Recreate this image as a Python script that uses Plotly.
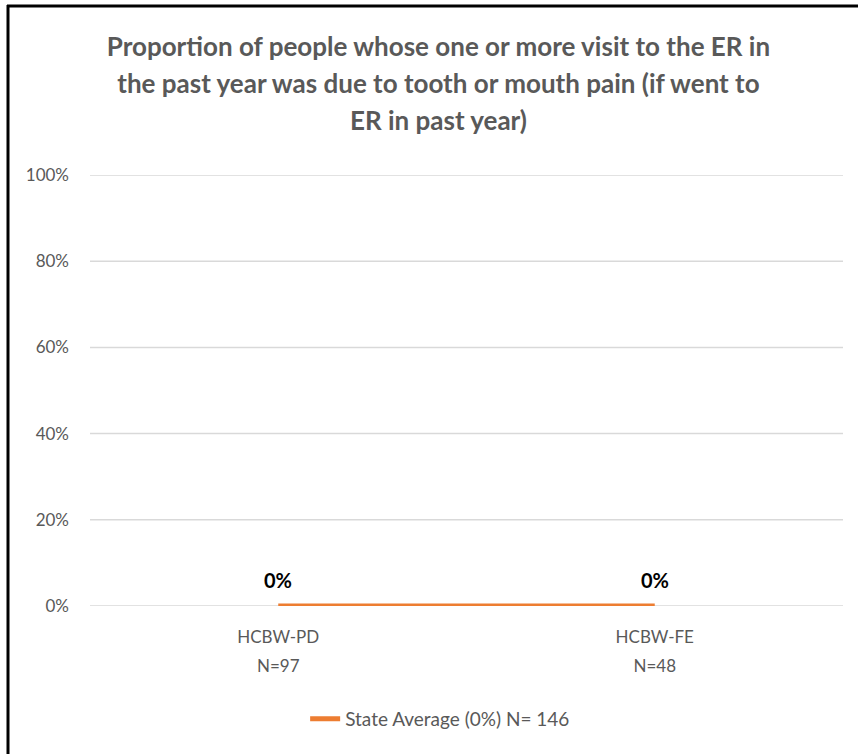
import plotly.graph_objects as go

categories = ["HCBW-PD", "HCBW-FE"]
sample_sizes = ["N=97", "N=48"]
group_values = [0, 0]
state_average = [0, 0]
state_label = "State Average (0%) N= 146"
title_lines = ["Proportion of people whose one or more visit to the ER in",
               "the past year was due to tooth or mouth pain (if went to",
               "ER in past year)"]
y_ticks = [0, 0.2, 0.4, 0.6, 0.8, 1.0]
y_ticklabels = ["0%", "20%", "40%", "60%", "80%", "100%"]

FONT = "Lato, Carlito, Calibri, sans-serif"
GREY = "#595959"
ORANGE = "#ED7D31"
GRID = "#D9D9D9"

W, H = 858, 754
L, R, T, B = 90, 15, 175, 148
pw, ph = W - L - R, H - T - B


def sized(s, px):
    return f"<span style='font-size:{px}px'>{s}</span>"


fig = go.Figure()

fig.add_trace(go.Scatter(
    x=categories, y=state_average, mode="lines",
    line=dict(color=ORANGE, width=5),
    name=state_label, cliponaxis=False,
))

# data labels above each category
for c, v in zip(categories, group_values):
    fig.add_annotation(x=c, y=v, xref="x", yref="y", text=f"{v:.0%}",
                       showarrow=False, yanchor="bottom", yshift=12,
                       font=dict(family=FONT, size=20, color="#000000", weight="bold"))


def px_to_paper_x(px):
    return (px - L) / pw


def px_to_paper_y(py):
    return (H - B - py) / ph


# frame (left and top edges of the original picture border)
fig.add_shape(type="line", xref="paper", yref="paper",
              x0=px_to_paper_x(8), x1=px_to_paper_x(8),
              y0=px_to_paper_y(5), y1=px_to_paper_y(H + 5),
              line=dict(color="#000000", width=3))
fig.add_shape(type="line", xref="paper", yref="paper",
              x0=px_to_paper_x(7), x1=px_to_paper_x(W + 5),
              y0=px_to_paper_y(6), y1=px_to_paper_y(6),
              line=dict(color="#000000", width=3))
# horizontal grid lines at every y tick (drawn below the series)
for t in y_ticks:
    fig.add_shape(type="line", xref="paper", yref="y", x0=0, x1=1, y0=t, y1=t,
                  line=dict(color=GRID, width=1.5), layer="below")

fig.update_layout(
    width=W, height=H,
    margin=dict(l=L, r=R, t=T, b=B, autoexpand=False),
    paper_bgcolor="white", plot_bgcolor="white",
    title=dict(text="<br>".join(sized(t, 26) for t in title_lines),
               x=0.511, xanchor="center", y=0.926, yanchor="top",
               font=dict(family=FONT, size=28.5, color=GREY, weight="bold")),
    xaxis=dict(
        type="category",
        tickvals=categories,
        ticktext=[f"{sized(c, 17)}<br>{sized(n, 17)}" for c, n in zip(categories, sample_sizes)],
        tickfont=dict(family=FONT, size=22.5, color=GREY),
        showgrid=False, showline=False, ticks="", range=[-0.5, 1.5],
        zeroline=False, ticklabelstandoff=13,
    ),
    yaxis=dict(
        range=[0, 1], tickvals=y_ticks, ticktext=y_ticklabels,
        tickfont=dict(family=FONT, size=17, color=GREY),
        showgrid=False,
        zeroline=False, showline=False, ticks="", ticklabelstandoff=20,
    ),
    showlegend=True,
    legend=dict(orientation="h", x=0.465, xanchor="center", y=-0.218, yanchor="top",
                font=dict(family=FONT, size=19, color=GREY)),
)

fig.write_html("out.html", config={"displayModeBar": False},
               post_script="document.body.style.margin='0';")
